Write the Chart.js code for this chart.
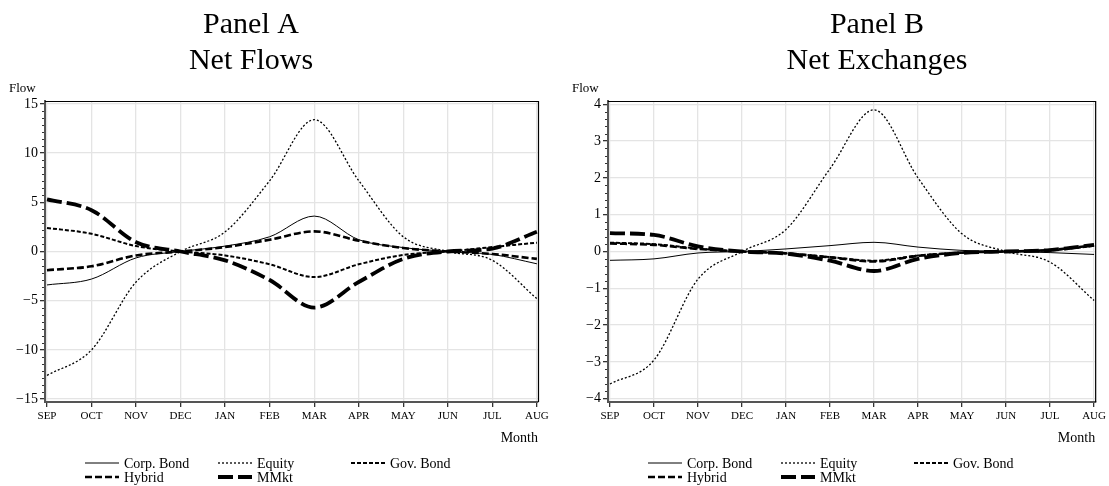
<!DOCTYPE html>
<html lang="en">
<head>
<meta charset="UTF-8">
<title>Net Flows and Net Exchanges</title>
<style>
    html, body { margin: 0; padding: 0; background: #fff; }
    .wrap { position: relative; width: 1109px; height: 486px; }
    .panel { position: absolute; top: 0; }
</style>
</head>
<body>
<div class="wrap">
    <div class="panel" style="left:0"><canvas id="chartA" width="555" height="486"></canvas></div>
    <div class="panel" style="left:555px"><canvas id="chartB" width="554" height="486"></canvas></div>
</div>

<script src="https://cdn.jsdelivr.net/npm/chart.js"></script>
<script>
    const months = ['SEP', 'OCT', 'NOV', 'DEC', 'JAN', 'FEB', 'MAR', 'APR', 'MAY', 'JUN', 'JUL', 'AUG'];
    const seriesNames = ['Corp. Bond', 'Equity', 'Gov. Bond', 'Hybrid', 'MMkt'];

    // Panel A - net flows
    const flowsCorp = [-3.4, -2.8, -0.65, 0, 0.55, 1.5, 3.6, 1.2, 0.4, 0, -0.3, -1.25];
    const flowsEquity = [-12.6, -10, -3.1, 0, 2.0, 7.2, 13.4, 7.2, 1.5, 0, -0.9, -4.8];
    const flowsGov = [2.4, 1.8, 0.55, 0, -0.4, -1.3, -2.6, -1.3, -0.35, 0, 0.45, 0.9];
    const flowsHybrid = [-1.9, -1.5, -0.4, 0, 0.45, 1.2, 2.05, 1.1, 0.35, 0, -0.25, -0.75];
    const flowsMMkt = [5.3, 4.2, 0.95, 0, -0.9, -2.9, -5.7, -3.1, -0.75, 0, 0.3, 2.0];
    const flowsTicks = [-15, -10, -5, 0, 5, 10, 15];

    // Panel B - net exchanges
    const exchCorp = [-0.24, -0.2, -0.04, 0, 0.07, 0.16, 0.25, 0.12, 0.03, 0, -0.03, -0.08];
    const exchEquity = [-3.6, -2.95, -0.75, 0, 0.6, 2.25, 3.85, 2.0, 0.48, 0, -0.29, -1.33];
    const exchGov = [0.24, 0.2, 0.08, 0, -0.05, -0.15, -0.25, -0.11, -0.03, 0, 0.03, 0.15];
    const exchHybrid = [0.22, 0.18, 0.07, 0, -0.05, -0.16, -0.27, -0.12, -0.03, 0, 0.04, 0.17];
    const exchMMkt = [0.5, 0.45, 0.14, 0, -0.06, -0.25, -0.53, -0.2, -0.04, 0, 0.04, 0.18];
    const exchTicks = [-4, -3, -2, -1, 0, 1, 2, 3, 4];

    const SERIF = '"Liberation Serif", "DejaVu Serif", serif';

    // line look for each series: width and dash
    const lineStyles = [
        {width: 1, dash: []},
        {width: 1.3, dash: [2, 2]},
        {width: 2, dash: [4, 2]},
        {width: 2.6, dash: [7, 3]},
        {width: 3.8, dash: [15, 5]}
    ];

    function toPoints(values) {
        return values.map((v, i) => ({x: i, y: v}));
    }

    function fmtNum(v) {
        return v < 0 ? '\u2212' + Math.abs(v) : String(v);
    }

    // titles, axis names, minor ticks, frame and legend
    const decorPlugin = {
        id: 'decor',
        afterDraw(chart, args, opts) {
            const ctx = chart.ctx;
            const area = chart.chartArea;
            const yScale = chart.scales.y;
            ctx.save();

            // minor ticks on y axis
            ctx.strokeStyle = '#333';
            ctx.lineWidth = 1;
            const ticks = opts.ticks;
            for (let i = 0; i < ticks.length - 1; i++) {
                const step = (ticks[i + 1] - ticks[i]) / opts.minor;
                for (let k = 1; k < opts.minor; k++) {
                    const py = Math.round(yScale.getPixelForValue(ticks[i] + k * step)) + 0.5;
                    ctx.beginPath();
                    ctx.moveTo(area.left - 3, py);
                    ctx.lineTo(area.left - 1, py);
                    ctx.stroke();
                }
            }

            // frame top and right
            ctx.strokeStyle = '#000';
            ctx.lineWidth = 1.2;
            ctx.beginPath();
            ctx.moveTo(area.left, area.top + 0.5);
            ctx.lineTo(area.right + 0.5, area.top + 0.5);
            ctx.lineTo(area.right + 0.5, area.bottom);
            ctx.stroke();

            // titles
            ctx.fillStyle = '#000';
            ctx.textAlign = 'center';
            ctx.textBaseline = 'alphabetic';
            ctx.font = '30px ' + SERIF;
            ctx.fillText(opts.title[0], opts.titleX, 33);
            ctx.fillText(opts.title[1], opts.titleX, 69);

            // axis names
            ctx.font = '13px ' + SERIF;
            ctx.textAlign = 'left';
            ctx.fillText('Flow', area.left - 36, 92);
            ctx.font = '14px ' + SERIF;
            ctx.textAlign = 'right';
            ctx.fillText('Month', area.right, 442);

            // legend
            ctx.font = '14px ' + SERIF;
            ctx.textAlign = 'left';
            ctx.textBaseline = 'middle';
            chart.data.datasets.forEach((ds, i) => {
                const col = i % 3;
                const row = Math.floor(i / 3);
                const lx = area.left + 40 + col * 133;
                const ly = 463 + row * 14;
                ctx.strokeStyle = '#000';
                ctx.lineWidth = ds.borderWidth;
                ctx.setLineDash(ds.borderDash);
                ctx.beginPath();
                ctx.moveTo(lx, ly);
                ctx.lineTo(lx + 34, ly);
                ctx.stroke();
                ctx.setLineDash([]);
                ctx.fillText(ds.label, lx + 39, ly + 1);
            });
            ctx.restore();
        }
    };

    function createPanel(canvasId, seriesValues, yTicks, yLimit, cfg) {
        const datasets = seriesValues.map((vals, i) => ({
            label: seriesNames[i],
            data: toPoints(vals),
            borderColor: '#000',
            borderWidth: lineStyles[i].width,
            borderDash: lineStyles[i].dash,
            pointRadius: 0,
            fill: false,
            cubicInterpolationMode: 'monotone'
        }));

        return new Chart(document.getElementById(canvasId), {
            type: 'line',
            data: {datasets: datasets},
            options: {
                responsive: false,
                animation: false,
                devicePixelRatio: 1,
                layout: {
                    padding: {left: 0, top: 101, right: cfg.padRight, bottom: 60}
                },
                plugins: {
                    legend: {display: false},
                    tooltip: {enabled: false},
                    decor: {
                        title: cfg.title,
                        titleX: cfg.titleX,
                        ticks: yTicks,
                        minor: cfg.minor
                    }
                },
                scales: {
                    x: {
                        type: 'linear',
                        min: -0.045,
                        max: 11.025,
                        afterBuildTicks: s => { s.ticks = months.map((m, i) => ({value: i})); },
                        afterFit: s => { s.height = 24; },
                        grid: {color: '#e4e4e4', lineWidth: 1.3, tickLength: 5, tickColor: '#333'},
                        border: {color: '#555', width: 2},
                        ticks: {
                            color: '#000',
                            padding: 3,
                            maxRotation: 0,
                            autoSkip: false,
                            font: {family: SERIF, size: 11},
                            callback: v => months[v]
                        }
                    },
                    y: {
                        min: -yLimit,
                        max: yLimit,
                        afterBuildTicks: s => { s.ticks = yTicks.map(v => ({value: v})); },
                        afterFit: s => { s.width = cfg.yWidth; },
                        grid: {color: '#e4e4e4', lineWidth: 1.3, tickLength: 5, tickColor: '#333'},
                        border: {color: '#555', width: 2},
                        ticks: {
                            color: '#000',
                            padding: 2,
                            font: {family: SERIF, size: 14},
                            callback: v => fmtNum(v)
                        }
                    }
                }
            },
            plugins: [decorPlugin]
        });
    }

    createPanel('chartA',
        [flowsCorp, flowsEquity, flowsGov, flowsHybrid, flowsMMkt],
        flowsTicks, 15.3,
        {title: ['Panel A', 'Net Flows'], titleX: 251, padRight: 17, yWidth: 45, minor: 7});

    createPanel('chartB',
        [exchCorp, exchEquity, exchGov, exchHybrid, exchMMkt],
        exchTicks, 4.09,
        {title: ['Panel B', 'Net Exchanges'], titleX: 322, padRight: 9, yWidth: 53, minor: 5});
</script>
</body>
</html>
